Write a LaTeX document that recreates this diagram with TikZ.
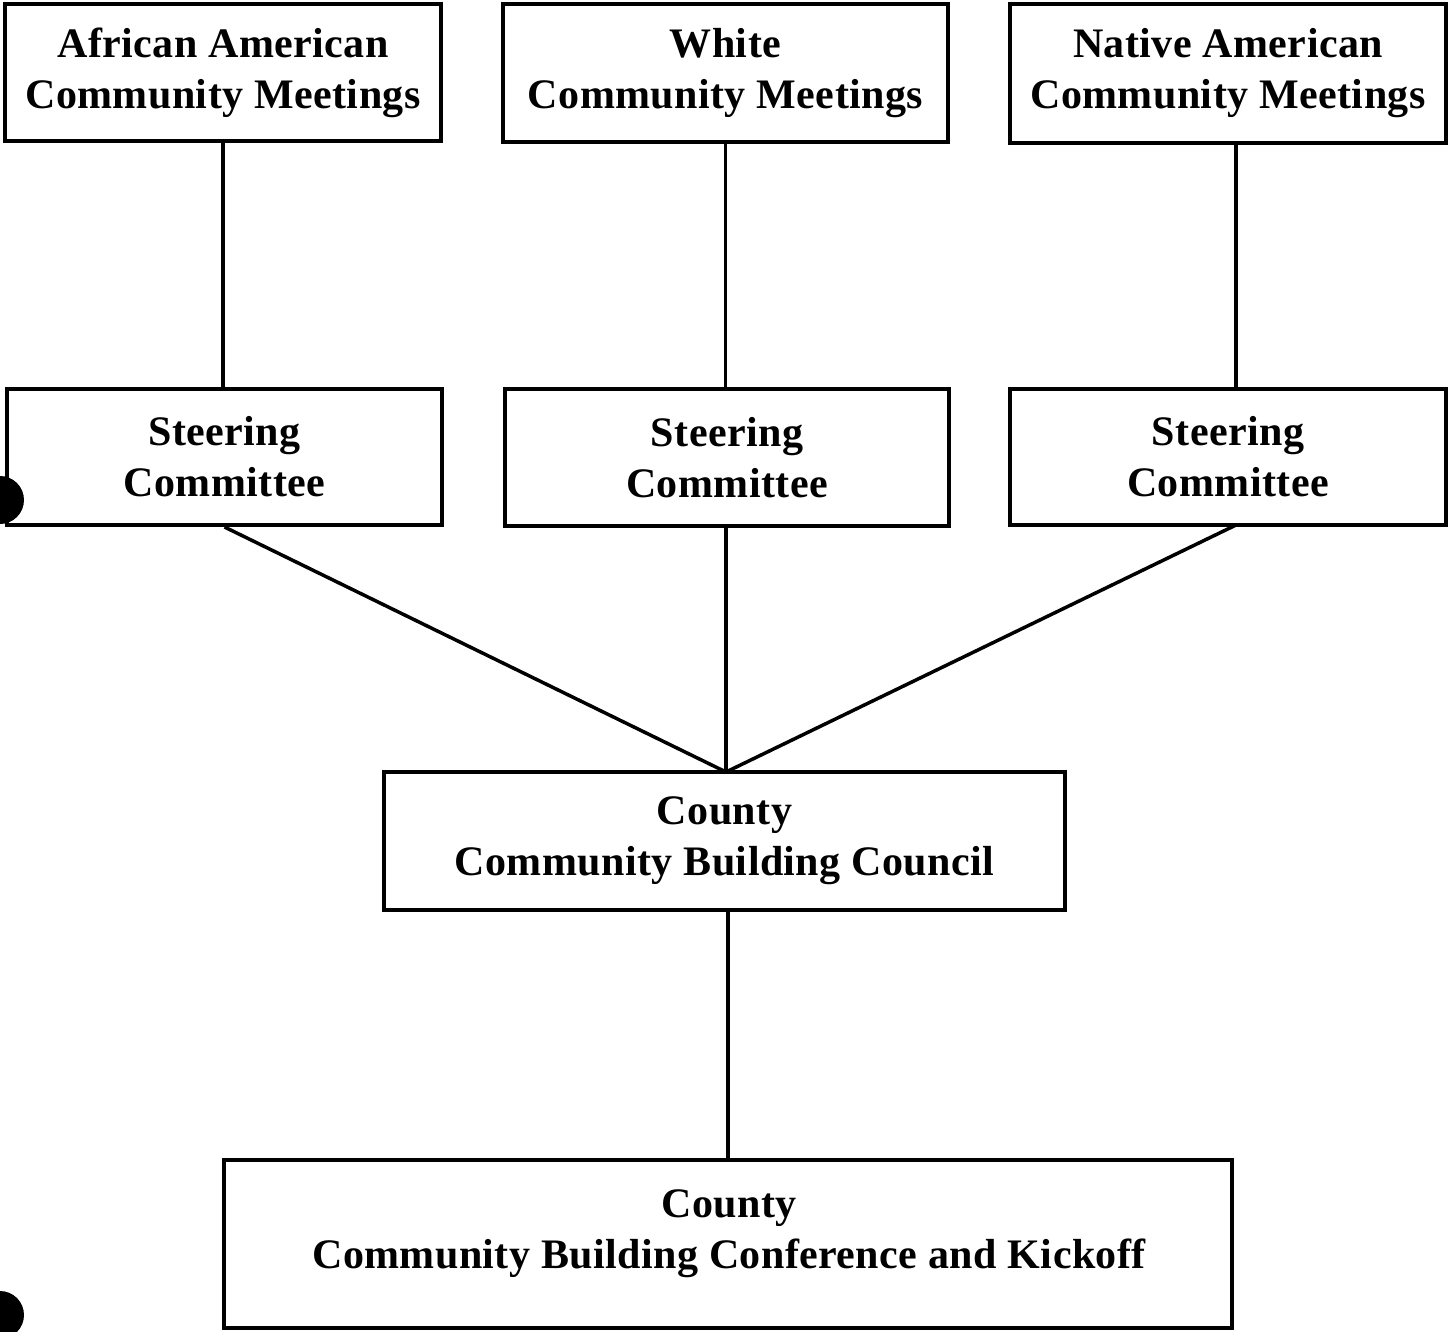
\documentclass[tikz,border=0pt]{standalone}
\usepackage{fontspec}
\setmainfont[LetterSpace=1]{Liberation Serif}
\begin{document}
\begin{tikzpicture}[x=1pt,y=-1pt,
  box/.style={draw,line width=4pt,rectangle,inner sep=0pt,align=center,
    font=\bfseries\fontsize{42}{51}\selectfont},
  conn/.style={line width=3.5pt}]
\useasboundingbox (0,0) rectangle (1448,1331);
\begin{scope}
\clip (0,0) rectangle (1448,1331);
\fill (0,500) circle (24);
\fill (0,1315) circle (24);
\end{scope}
\node[box,minimum width=436pt,minimum height=137pt] (aa) at (223,72.5) {African American\\Community Meetings};
\node[box,minimum width=445pt,minimum height=138pt] (wh) at (725.5,73) {White\\Community Meetings};
\node[box,minimum width=436pt,minimum height=139pt] (na) at (1228,73.5) {Native American\\Community Meetings};
\node[box,minimum width=435pt,minimum height=136pt] (s1) at (224.5,457) {Steering\\Committee};
\node[box,minimum width=444pt,minimum height=137pt] (s2) at (727,457.5) {Steering\\Committee};
\node[box,minimum width=436pt,minimum height=136pt] (s3) at (1228,457) {Steering\\Committee};
\node[box,minimum width=681pt,minimum height=138pt] (cc) at (724.5,841) {County\\Community Building Council};
\node[box,minimum width=1008pt,minimum height=168pt] (cf) at (728,1244) {};
\node[box,draw=none] (cftext) at (729,1234) {County\\Community Building Conference and Kickoff};
\coordinate (apex) at (726,772);
\coordinate (s2b) at (726,526);
\coordinate (ccb) at (728,910);
\coordinate (cft) at (728,1160);
\draw[conn] (aa.south) -- (aa.south |- s1.north);
\draw[conn] (wh.south) -- (wh.south |- s2.north);
\draw[conn] (1236,143) coordinate (nab) -- (nab |- s3.north);
\draw[conn] (s1.south) -- (apex);
\draw[conn] (s2b) -- (apex);
\draw[conn] (1236,525) coordinate (s3b) -- (apex);
\draw[conn] (ccb) -- (cft);
\end{tikzpicture}
\end{document}
